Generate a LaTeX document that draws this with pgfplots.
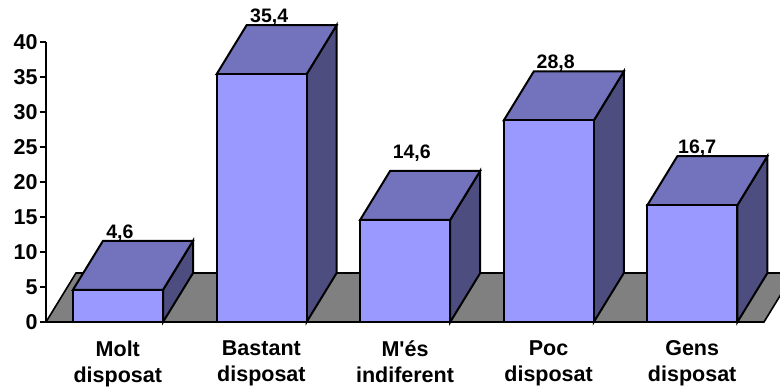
\documentclass[border=0pt]{standalone}
\usepackage{pgfplots}
\pgfplotsset{compat=1.18}
\usepackage{fontspec}
\setmainfont{Liberation Sans}
\definecolor{front}{HTML}{9999FF}
\definecolor{topf}{HTML}{7373BD}
\definecolor{sidef}{HTML}{4D4D80}
\definecolor{floorf}{HTML}{808080}
\begin{document}
\begin{tikzpicture}
\path[use as bounding box,clip] (0,0) rectangle (780pt,387pt);
\begin{axis}[
  at={(46pt,65pt)},anchor=origin,
  scale only axis,width=718pt,height=280pt,
  xmin=0,xmax=5,ymin=0,ymax=40,clip=false,
  axis lines=left,axis line style={-,line width=2pt,black},
  ytick={0,5,...,40},
  xtick={0.5,1.5,2.5,3.5,4.5},
  xticklabels={{Molt\\disposat},{Bastant\\disposat},{M\textquotesingle és\\indiferent},{Poc\\disposat},{Gens\\disposat}},
  minor xtick={0,1,...,5},
  tick align=outside,
  major tick length=6pt,minor tick length=6pt,
  ytick style={black,line width=1.6pt},
  xtick style={draw=none},
  minor tick style={black,line width=1.6pt},
  /pgf/number format/assume math mode=true,
  tick label style={font=\fontsize{21.5}{26}\selectfont\bfseries},
  xticklabel style={align=center,yshift=-9pt},
  yticklabel style={xshift=1pt},
]
\addplot[fill=floorf,draw=black,line width=1.6pt] coordinates {(0,0)(0.209,7)(5.209,7)(5,0)} -- cycle;
% bar 1
\addplot[fill=sidef,draw=black,line width=2pt] coordinates {(0.815,0)(1.024,7)(1.024,11.6)(0.815,4.6)} -- cycle;
\addplot[fill=topf,draw=black,line width=2pt] coordinates {(0.188,4.6)(0.397,11.6)(1.024,11.6)(0.815,4.6)} -- cycle;
% bar 2
\addplot[fill=sidef,draw=black,line width=2pt] coordinates {(1.815,0)(2.024,7)(2.024,42.4)(1.815,35.4)} -- cycle;
\addplot[fill=topf,draw=black,line width=2pt] coordinates {(1.188,35.4)(1.397,42.4)(2.024,42.4)(1.815,35.4)} -- cycle;
% bar 3
\addplot[fill=sidef,draw=black,line width=2pt] coordinates {(2.815,0)(3.024,7)(3.024,21.6)(2.815,14.6)} -- cycle;
\addplot[fill=topf,draw=black,line width=2pt] coordinates {(2.188,14.6)(2.397,21.6)(3.024,21.6)(2.815,14.6)} -- cycle;
% bar 4
\addplot[fill=sidef,draw=black,line width=2pt] coordinates {(3.815,0)(4.024,7)(4.024,35.8)(3.815,28.8)} -- cycle;
\addplot[fill=topf,draw=black,line width=2pt] coordinates {(3.188,28.8)(3.397,35.8)(4.024,35.8)(3.815,28.8)} -- cycle;
% bar 5
\addplot[fill=sidef,draw=black,line width=2pt] coordinates {(4.815,0)(5.024,7)(5.024,23.7)(4.815,16.7)} -- cycle;
\addplot[fill=topf,draw=black,line width=2pt] coordinates {(4.188,16.7)(4.397,23.7)(5.024,23.7)(4.815,16.7)} -- cycle;
% front faces
\addplot[ybar,bar width=90pt,bar shift=0pt,fill=front,draw=black,line width=2pt] coordinates {(0.501,4.6)(1.501,35.4)(2.501,14.6)(3.501,28.8)(4.501,16.7)};
% value labels
\addplot[draw=none,mark=none,
  point meta=explicit,
  nodes near coords,
  nodes near coords align={anchor=south},
  every node near coord/.append style={font=\fontsize{19.5}{22}\selectfont\bfseries,inner sep=0pt,yshift=-0.5pt,
    /pgf/number format/.cd,use comma,fixed,fixed zerofill,precision=1,assume math mode=true},
] coordinates {(0.514,11.6)[4.6](1.554,42.4)[35.4](2.547,22.9)[14.6](3.549,35.8)[28.8](4.535,23.7)[16.7]};
\end{axis}
\end{tikzpicture}
\end{document}
